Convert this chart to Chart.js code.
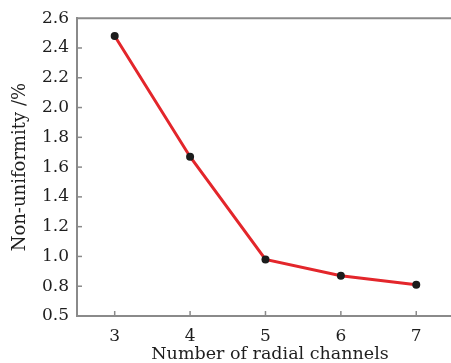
<!DOCTYPE html>
<html>
<head>
<meta charset="utf-8">
<script src="https://cdn.jsdelivr.net/npm/chart.js@4/dist/chart.umd.min.js"></script>
<style>
html,body{margin:0;padding:0;background:#fff;overflow:hidden;}
#wrap{width:451px;height:363px;overflow:hidden;}
canvas{display:block;}
</style>
</head>
<body>
<div id="wrap"><canvas id="c" width="467" height="363"></canvas></div>
<script>
const categories = [3, 4, 5, 6, 7];
const nonUniformity = [2.48, 1.67, 0.98, 0.87, 0.81];
const yTickValues = [0.6, 0.8, 1.0, 1.2, 1.4, 1.6, 1.8, 2.0, 2.2, 2.4, 2.6];
const yTickLabels = ['0.5', '0.8', '1.0', '1.2', '1.4', '1.6', '1.8', '2.0', '2.2', '2.4', '2.6'];
const xTitle = 'Number of radial channels';
const yTitle = 'Non-uniformity /%';

const AXIS_COLOR = '#8a8a8a';
const TEXT_COLOR = '#1e1e1e';
const FONT = "'DejaVu Serif', serif";

const innerTicks = {
  id: 'innerTicks',
  afterDraw(chart) {
    const ctx = chart.ctx, a = chart.chartArea;
    ctx.save();
    ctx.strokeStyle = AXIS_COLOR;
    ctx.lineWidth = 1.5;
    const xs = chart.scales.x, ys = chart.scales.y;
    xs.ticks.forEach(t => {
      const px = xs.getPixelForValue(t.value);
      ctx.beginPath(); ctx.moveTo(px, a.bottom); ctx.lineTo(px, a.bottom - 5); ctx.stroke();
    });
    ys.ticks.forEach(t => {
      const py = ys.getPixelForValue(t.value);
      if (Math.abs(py - a.bottom) < 1 || Math.abs(py - a.top) < 1) return;
      ctx.beginPath(); ctx.moveTo(a.left, py); ctx.lineTo(a.left + 5, py); ctx.stroke();
    });
    ctx.lineWidth = 2;
    ctx.beginPath(); ctx.moveTo(a.left, a.top); ctx.lineTo(a.right, a.top); ctx.stroke();
    ctx.restore();
  }
};

new Chart(document.getElementById('c'), {
  type: 'line',
  data: {
    datasets: [{
      data: categories.map((c, i) => ({ x: c, y: nonUniformity[i] })),
      borderColor: '#e3262b',
      borderWidth: 3,
      pointBackgroundColor: '#1c1c1c',
      pointBorderColor: '#1c1c1c',
      pointRadius: 4,
      pointBorderWidth: 0,
      tension: 0
    }]
  },
  options: {
    responsive: false,
    animation: false,
    devicePixelRatio: 1,
    layout: { padding: { top: 14, right: 0, left: 0, bottom: 0 } },
    plugins: { legend: { display: false }, tooltip: { enabled: false } },
    scales: {
      x: {
        type: 'linear',
        min: 2.5,
        max: 7.62,
        afterBuildTicks(s) { s.ticks = categories.map(v => ({ value: v })); },
        afterFit(s) { s.height = 47; },
        grid: { display: false, drawTicks: false },
        border: { display: true, color: AXIS_COLOR, width: 2 },
        ticks: {
          padding: 10,
          color: TEXT_COLOR,
          font: { family: FONT, size: 17 },
          callback: v => String(v)
        },
        title: {
          display: true,
          text: xTitle,
          color: TEXT_COLOR,
          font: { family: FONT, size: 17.5, lineHeight: 1 },
          padding: { top: 0, bottom: 0 }
        }
      },
      y: {
        type: 'linear',
        min: 0.6,
        max: 2.6,
        afterBuildTicks(s) { s.ticks = yTickValues.map(v => ({ value: v })); },
        afterFit(s) { s.width = 77; },
        grid: { display: false, drawTicks: false },
        border: { display: true, color: AXIS_COLOR, width: 2 },
        ticks: {
          padding: 8,
          color: TEXT_COLOR,
          font: { family: FONT, size: 17 },
          callback: (v, i) => yTickLabels[i]
        },
        title: {
          display: true,
          text: yTitle,
          color: TEXT_COLOR,
          font: { family: FONT, size: 18, lineHeight: 1 },
          padding: { top: 11, bottom: 0 }
        }
      }
    }
  },
  plugins: [innerTicks]
});
</script>
</body>
</html>
